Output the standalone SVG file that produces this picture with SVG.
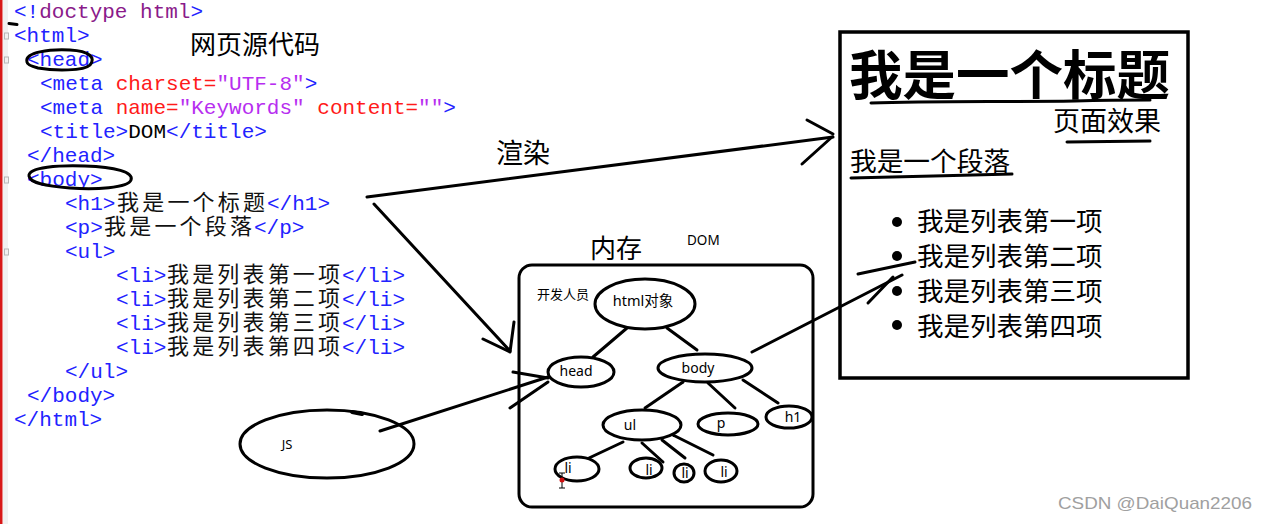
<svg xmlns="http://www.w3.org/2000/svg" width="1268" height="524" viewBox="0 0 1268 524">
<defs>
<style>
.code{font-family:"Liberation Mono","Courier New",monospace;font-size:21px;white-space:pre}
.t{fill:#2222ff}
.a{fill:#ff1a1a}
.s{fill:#b72ef0}
.d{fill:#8a1a8a}
.k{fill:#000}
.cn{font-family:"Noto Sans CJK SC",sans-serif;fill:#000}
.cz{font-family:"Noto Sans CJK SC",sans-serif;font-size:22px;fill:#111}
.lbl{font-family:"Noto Sans","Noto Sans CJK SC",sans-serif;fill:#000}
.ink{fill:none;stroke:#000;stroke-width:3;stroke-linecap:round;stroke-linejoin:round}
.node{fill:#fff;stroke:#000;stroke-width:3}
</style>
</defs>
<rect width="1268" height="524" fill="#fff"/>
<!-- editor gutter -->
<g id="gutter">
<rect x="3" y="0" width="5" height="524" fill="#f1f1f1"/>
<rect x="0" y="0" width="2.5" height="524" fill="#d81818"/>
<g fill="none" stroke="#b8b8b8" stroke-width="1">
<rect x="4.5" y="33" width="4" height="6"/>
<rect x="4.5" y="57" width="4" height="6"/>
<rect x="4.5" y="177" width="4" height="6"/>
<rect x="4.5" y="249" width="4" height="6"/>
</g>
<line x1="9" y1="23.5" x2="17" y2="24.5" stroke="#000" stroke-width="3" stroke-linecap="round"/>
</g>
<!-- source code -->
<g id="source-code" class="code">
<text x="14" y="17.5"><tspan class="t">&lt;!</tspan><tspan class="d">doctype html</tspan><tspan class="t">&gt;</tspan></text>
<text x="14" y="41.5" class="t">&lt;html&gt;</text>
<text x="27" y="65.5" class="t">&lt;head&gt;</text>
<text x="40" y="89.5"><tspan class="t">&lt;meta </tspan><tspan class="a">charset=</tspan><tspan class="s">"UTF-8"</tspan><tspan class="t">&gt;</tspan></text>
<text x="40" y="113.5"><tspan class="t">&lt;meta </tspan><tspan class="a">name=</tspan><tspan class="s">"Keywords"</tspan><tspan class="a"> content=</tspan><tspan class="s">""</tspan><tspan class="t">&gt;</tspan></text>
<text x="40" y="137.5"><tspan class="t">&lt;title&gt;</tspan><tspan class="k">DOM</tspan><tspan class="t">&lt;/title&gt;</tspan></text>
<text x="27" y="161.5" class="t">&lt;/head&gt;</text>
<text x="27" y="185.5" class="t">&lt;body&gt;</text>
<text x="65" y="209.5" class="t">&lt;h1&gt;</text>
<text x="117" y="209.5" class="cz" textLength="148" lengthAdjust="spacing">我是一个标题</text>
<text x="267" y="209.5" class="t">&lt;/h1&gt;</text>
<text x="65" y="233.5" class="t">&lt;p&gt;</text>
<text x="104" y="233.5" class="cz" textLength="148" lengthAdjust="spacing">我是一个段落</text>
<text x="254" y="233.5" class="t">&lt;/p&gt;</text>
<text x="65" y="257.5" class="t">&lt;ul&gt;</text>
<text x="116" y="281.5" class="t">&lt;li&gt;</text>
<text x="167" y="281.5" class="cz" textLength="173" lengthAdjust="spacing">我是列表第一项</text>
<text x="342" y="281.5" class="t">&lt;/li&gt;</text>
<text x="116" y="305.5" class="t">&lt;li&gt;</text>
<text x="167" y="305.5" class="cz" textLength="173" lengthAdjust="spacing">我是列表第二项</text>
<text x="342" y="305.5" class="t">&lt;/li&gt;</text>
<text x="116" y="329.5" class="t">&lt;li&gt;</text>
<text x="167" y="329.5" class="cz" textLength="173" lengthAdjust="spacing">我是列表第三项</text>
<text x="342" y="329.5" class="t">&lt;/li&gt;</text>
<text x="116" y="353.5" class="t">&lt;li&gt;</text>
<text x="167" y="353.5" class="cz" textLength="173" lengthAdjust="spacing">我是列表第四项</text>
<text x="342" y="353.5" class="t">&lt;/li&gt;</text>
<text x="65" y="377.5" class="t">&lt;/ul&gt;</text>
<text x="27" y="401.5" class="t">&lt;/body&gt;</text>
<text x="14" y="425.5" class="t">&lt;/html&gt;</text>
<!-- hand-drawn circles -->
<path class="ink" d="M27 62 C24 52 50 49 70 50 C90 51 96 58 90 65 C84 71 55 71 38 68 C30 66 27 64 27 62"/>
<path class="ink" d="M29 176 C28 167 60 165 85 166 C115 167 134 172 131 180 C128 188 95 190 70 188 C45 186 30 183 29 176"/>
</g>
<text x="190" y="54" class="cn" font-size="26">网页源代码</text>
<!-- rendered page -->
<g id="page-effect">
<rect x="840" y="32" width="348" height="346" fill="none" stroke="#000" stroke-width="3.5"/>
<text x="849" y="95" class="cn" font-size="53" font-weight="bold" textLength="321" lengthAdjust="spacingAndGlyphs">我是一个标题</text>
<path class="ink" d="M871 103 C930 101 1000 102 1075 101 C1110 100 1135 100 1150 100"/>
<text x="1053" y="131" class="cn" font-size="27">页面效果</text>
<path class="ink" d="M1067 142 L1150 141"/>
<text x="850" y="171" class="cn" font-size="26.7">我是一个段落</text>
<path class="ink" d="M851 178 C900 177 960 175 1012 174"/>
<g fill="#000">
<circle cx="897" cy="222" r="5"/>
<circle cx="897" cy="256" r="5"/>
<circle cx="897" cy="291" r="5"/>
<circle cx="897" cy="325" r="5"/>
</g>
<text x="917" y="231" class="cn" font-size="26.5">我是列表第一项</text>
<text x="917" y="266" class="cn" font-size="26.5">我是列表第二项</text>
<text x="917" y="301" class="cn" font-size="26.5">我是列表第三项</text>
<text x="917" y="336" class="cn" font-size="26.5">我是列表第四项</text>
</g>
<text x="496" y="163" class="cn" font-size="27">渲染</text>
<text x="590" y="258" class="cn" font-size="26">内存</text>
<text x="687" y="245" class="lbl" font-size="13.5">DOM</text>
<!-- memory box -->
<g id="memory">
<rect x="519" y="265" width="294" height="242" rx="13" fill="none" stroke="#000" stroke-width="3"/>
<text x="537" y="299" class="cn" font-size="13">开发人员</text>
</g>
<!-- connectors -->
<g id="connectors" class="ink">
<path d="M367 197 C500 180 650 160 833 137"/>
<path d="M807 120 L833 134 M802 164 L832 137"/>
<path d="M374 204 L510 351"/>
<path d="M483 339 L510 352 M514 322 L510 352"/>
<path d="M627 328 L593 357"/>
<path d="M667 328 L697 350"/>
<path d="M683 382 L645 408"/>
<path d="M708 383 L735 408"/>
<path d="M743 380 L778 403"/>
<path d="M623 442 L589 458"/>
<path d="M642 443 L663 462"/>
<path d="M662 440 L685 458"/>
<path d="M673 435 L713 455"/>
<path d="M752 352 L902 275"/>
<path d="M858 274 L915 262 M868 303 L893 277"/>
<path d="M380 431 L548 377"/>
<path d="M513 372 L548 378 M510 408 L548 382"/>
</g>
<!-- tree nodes -->
<g id="node-html">
<ellipse cx="645" cy="304" rx="50" ry="25" class="node"/>
<text x="643" y="306" class="lbl" font-size="14.5" text-anchor="middle">html对象</text>
</g>
<g id="node-head">
<ellipse cx="581" cy="372" rx="33" ry="15" class="node"/>
<text x="576" y="376" class="lbl" font-size="14" text-anchor="middle">head</text>
</g>
<g id="node-body">
<ellipse cx="705" cy="368" rx="47" ry="14" class="node"/>
<text x="698" y="373" class="lbl" font-size="14" text-anchor="middle">body</text>
</g>
<g id="node-ul">
<ellipse cx="642" cy="425" rx="39" ry="15" class="node"/>
<text x="630" y="430" class="lbl" font-size="14" text-anchor="middle">ul</text>
</g>
<g id="node-p">
<ellipse cx="728" cy="424" rx="30" ry="11" class="node"/>
<text x="721" y="428" class="lbl" font-size="14" text-anchor="middle">p</text>
</g>
<g id="node-h1">
<ellipse cx="789" cy="417" rx="23" ry="11" class="node"/>
<text x="793" y="422" class="lbl" font-size="14" text-anchor="middle">h1</text>
</g>
<g id="node-li1">
<ellipse cx="577" cy="469" rx="22" ry="12" class="node"/>
<text x="568" y="473" class="lbl" font-size="14" text-anchor="middle">li</text>
</g>
<g id="node-li2">
<ellipse cx="646" cy="468" rx="16" ry="10" class="node"/>
<text x="649" y="475" class="lbl" font-size="14" text-anchor="middle">li</text>
</g>
<g id="node-li3">
<ellipse cx="684" cy="473" rx="10" ry="9" class="node"/>
<text x="685" y="478" class="lbl" font-size="14" text-anchor="middle">li</text>
</g>
<g id="node-li4">
<ellipse cx="721" cy="471" rx="16" ry="11" class="node"/>
<text x="724" y="477" class="lbl" font-size="14" text-anchor="middle">li</text>
</g>
<g id="node-js">
<ellipse cx="327" cy="444" rx="87" ry="34" fill="none" stroke="#000" stroke-width="3"/>
<path d="M352 412 L362 414" stroke="#000" stroke-width="4" stroke-linecap="round"/>
<text x="287" y="449" class="lbl" font-size="13" text-anchor="middle">JS</text>
</g>
<!-- mouse cursor -->
<g id="cursor" stroke="#000" stroke-width="1">
<path d="M559 473 H565 M562 473 V488 M559 488 H565" fill="none"/>
<circle cx="562" cy="480" r="2.5" fill="#d01010" stroke="none"/>
</g>
<text x="1058" y="509" font-family="Liberation Sans,Arial,sans-serif" font-size="17" fill="#a0a0a0" textLength="194" lengthAdjust="spacingAndGlyphs">CSDN @DaiQuan2206</text>
</svg>
